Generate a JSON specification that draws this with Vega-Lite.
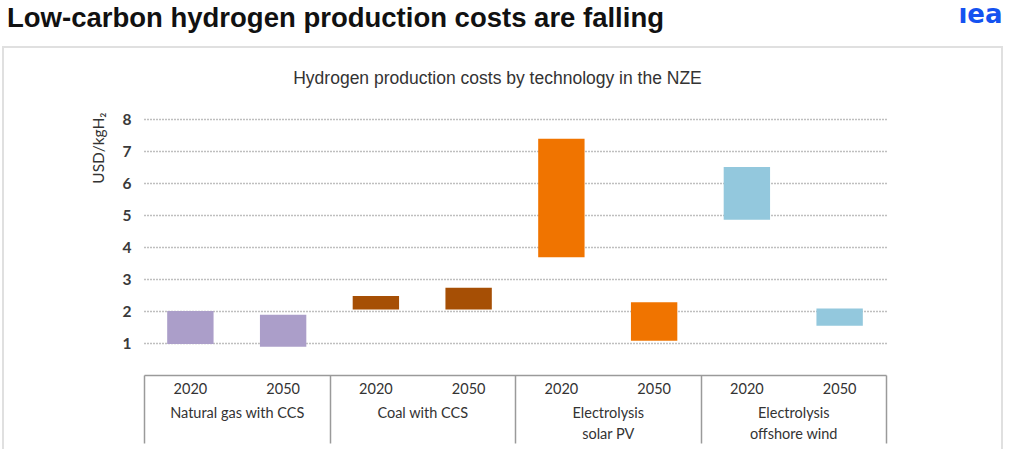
{
  "$schema": "https://vega.github.io/schema/vega-lite/v6.json",
  "autosize": {"type": "none"},
  "padding": {"left": 3, "top": 47, "right": 11, "bottom": 0},
  "width": 999,
  "height": 404,
  "background": "white",
  "title": {
    "text": "Low-carbon hydrogen production costs are falling",
    "anchor": "start",
    "frame": "group",
    "font": "Liberation Sans",
    "fontSize": 27.5,
    "fontWeight": "bold",
    "color": "#111111",
    "dx": 4,
    "dy": 73,
    "offset": 20,
    "baseline": "alphabetic"
  },
  "data": {
    "values": [
      {"technology": "Natural gas with CCS", "year": "2020", "low": 0.97, "high": 2.0},
      {"technology": "Natural gas with CCS", "year": "2050", "low": 0.88, "high": 1.88},
      {"technology": "Coal with CCS", "year": "2020", "low": 2.05, "high": 2.47},
      {"technology": "Coal with CCS", "year": "2050", "low": 2.05, "high": 2.73},
      {"technology": "Electrolysis solar PV", "year": "2020", "low": 3.68, "high": 7.38},
      {"technology": "Electrolysis solar PV", "year": "2050", "low": 1.07, "high": 2.27},
      {"technology": "Electrolysis offshore wind", "year": "2020", "low": 4.85, "high": 6.5},
      {"technology": "Electrolysis offshore wind", "year": "2050", "low": 1.54, "high": 2.08}
    ]
  },
  "layer": [
    {
      "mark": {"type": "bar"},
      "encoding": {
        "x": {
          "field": "technology",
          "type": "nominal",
          "sort": null,
          "scale": {"range": [141, 883], "paddingInner": 0, "paddingOuter": 0},
          "axis": {
            "orient": "bottom",
            "offset": -76,
            "title": null,
            "domainColor": "#9a9a9a",
            "domainWidth": 1.5,
            "tickBand": "extent",
            "tickSize": 68,
            "tickColor": "#9a9a9a",
            "tickWidth": 1.5,
            "labelAngle": 0,
            "labelPadding": -37,
            "labelFont": "Lato",
            "labelFontSize": 14.5,
            "labelColor": "#333333",
            "labelLineHeight": 21,
            "labelBaseline": "top",
            "labelExpr": "indexof(datum.label, 'Electrolysis ') === 0 ? ['Electrolysis', substring(datum.label, 13)] : datum.label"
          }
        },
        "xOffset": {
          "field": "year",
          "type": "nominal",
          "scale": {"paddingInner": 0.5, "paddingOuter": 0.25}
        },
        "y": {
          "field": "low",
          "type": "quantitative",
          "scale": {"domain": [0, 8], "range": [328, 72], "nice": false, "zero": false},
          "axis": {
            "orient": "left",
            "offset": -141,
            "values": [1, 2, 3, 4, 5, 6, 7, 8],
            "title": "USD/kgH₂",
            "grid": true,
            "gridDash": [1, 2],
            "gridColor": "#808080",
            "gridWidth": 1.3,
            "domain": false,
            "ticks": false,
            "labelPadding": 13,
            "labelFont": "Lato",
            "labelFontSize": 15.5,
            "labelFontWeight": "bold",
            "labelColor": "#3a3a3a",
            "titleFont": "Lato",
            "titleFontSize": 15.5,
            "titleFontWeight": "normal",
            "titleColor": "#333333",
            "titleAngle": -90,
            "titleAlign": "right",
            "titleBaseline": "middle",
            "titleX": -46,
            "titleY": 65
          }
        },
        "y2": {"field": "high"},
        "color": {
          "field": "technology",
          "type": "nominal",
          "scale": {
            "domain": ["Natural gas with CCS", "Coal with CCS", "Electrolysis solar PV", "Electrolysis offshore wind"],
            "range": ["#ab9ec9", "#a64f05", "#f07400", "#93c8dd"]
          },
          "legend": null
        }
      }
    },
    {
      "mark": {"type": "text", "baseline": "middle", "dy": 15, "font": "Lato", "fontSize": 14.5, "color": "#333333"},
      "encoding": {
        "x": {
          "field": "technology",
          "type": "nominal",
          "sort": null,
          "axis": {
            "orient": "top",
            "domain": false,
            "ticks": false,
            "labels": false,
            "grid": false,
            "title": "Hydrogen production costs by technology in the NZE",
            "titleFont": "Liberation Sans",
            "titleFontSize": 17.5,
            "titleFontWeight": "normal",
            "titleColor": "#333333",
            "titleAngle": 0,
            "titleAlign": "center",
            "titleBaseline": "alphabetic",
            "titleX": 494,
            "titleY": 36
          }
        },
        "xOffset": {"field": "year", "type": "nominal"},
        "y": {
          "datum": 0,
          "axis": {
            "orient": "right",
            "domain": false,
            "ticks": false,
            "labels": false,
            "grid": false,
            "title": "ıea",
            "titleFont": "DejaVu Sans",
            "titleFontSize": 26,
            "titleFontWeight": "bold",
            "titleColor": "#1452f0",
            "titleAngle": 0,
            "titleAlign": "right",
            "titleBaseline": "alphabetic",
            "titleX": 0,
            "titleY": -25
          }
        },
        "text": {"field": "year"}
      }
    }
  ],
  "resolve": {"axis": {"x": "independent", "y": "independent"}},
  "config": {"view": {"stroke": "#e0e0e0", "strokeWidth": 2}}
}
